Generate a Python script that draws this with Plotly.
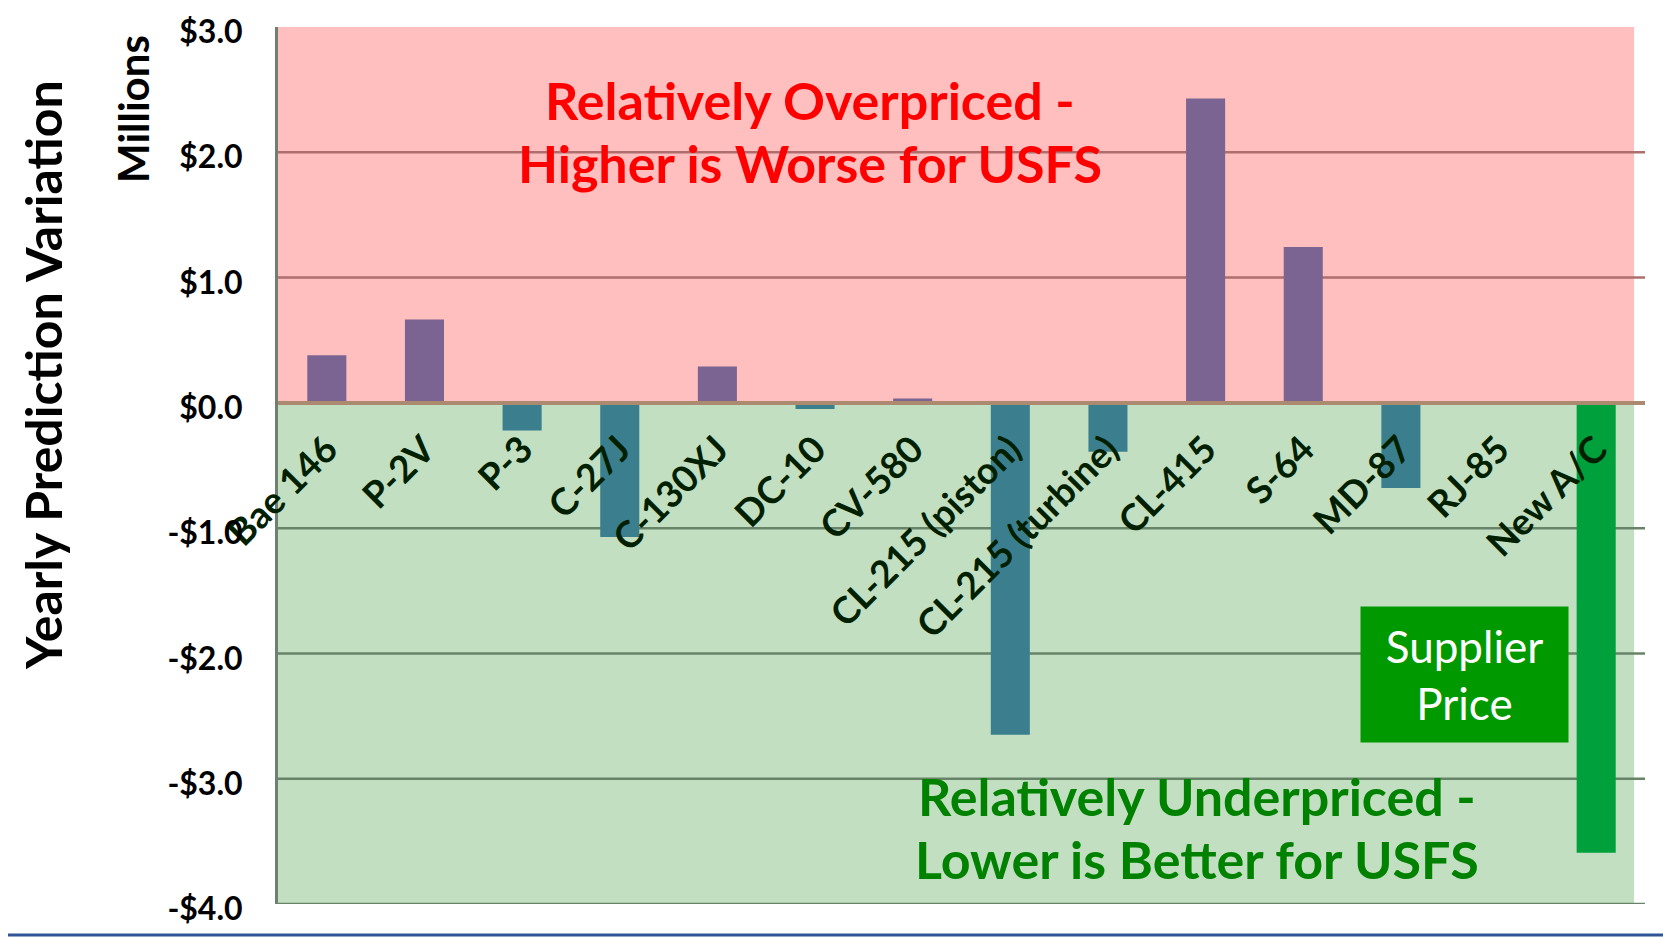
import plotly.graph_objects as go

categories = ["Bae 146", "P-2V", "P-3", "C-27J", "C-130XJ", "DC-10", "CV-580",
              "CL-215 (piston)", "CL-215 (turbine)", "CL-415", "S-64", "MD-87",
              "RJ-85", "New A/C"]
values = [0.38, 0.665, -0.22, -1.07, 0.29, -0.05, 0.035,
          -2.65, -0.39, 2.43, 1.245, -0.68, 0.0, -3.59]
y_ticks = [3, 2, 1, 0, -1, -2, -3, -4]
supplier_category = "New A/C"

def money(v):
    return ("-$" if v < 0 else "$") + f"{abs(v):.1f}"

PURPLE = "rgb(123,100,145)"
TEAL = "rgb(59,127,143)"
GREEN = "rgb(0,161,60)"
colors = [GREEN if c == supplier_category else (PURPLE if v >= 0 else TEAL)
          for c, v in zip(categories, values)]

FONT = "Lato"
W, H = 1663, 929
ML, MR, MT, MB = 270, 26, 19, 33
PW, PH = W - ML - MR, H - MT - MB

def px(xp):  # page pixel -> paper x
    return (xp - 8 - ML) / PW

def py(yp):  # page pixel -> paper y
    return (H - MB - (yp - 8)) / PH

fig = go.Figure()
fig.add_trace(go.Bar(x=categories, y=values, marker=dict(color=colors, line=dict(width=0)),
                     showlegend=False, hoverinfo="x+y"))

fig.update_layout(
    width=W, height=H,
    margin=dict(l=ML, r=MR, t=MT, b=MB, autoexpand=False),
    paper_bgcolor="white", plot_bgcolor="white",
    bargap=0.6,
    font=dict(family=FONT, color="black"),
    xaxis=dict(
        type="category", anchor="free", position=4/7, automargin=False,
        showgrid=False, showline=True, linecolor="rgb(172,138,112)", linewidth=4,
        tickangle=-45, ticks="", tickfont=dict(family=FONT, size=37, color="rgb(0,32,0)", weight="bold"),
        ticklabelstandoff=8, ticklabeloverflow="allow",
    ),
    yaxis=dict(
        range=[-4, 3], tickvals=y_ticks, ticktext=[money(v) for v in y_ticks],
        automargin=False,
        showgrid=False, zeroline=False,
        showline=True, linecolor="rgb(112,128,112)", linewidth=3,
        ticks="", ticklabelstandoff=26, ticklabelshift=5, ticklabeloverflow="allow",
        tickfont=dict(family=FONT, size=32, color="black", weight="bold"),
    ),
)

# shaded zones
fig.add_shape(type="rect", xref="x domain", yref="y", x0=0, x1=0.992, y0=0, y1=3,
              fillcolor="rgb(255,191,191)", line=dict(width=0), layer="below")
fig.add_shape(type="rect", xref="x domain", yref="y", x0=0, x1=0.992, y0=-4, y1=0,
              fillcolor="rgb(194,223,194)", line=dict(width=0), layer="below")
# gridlines, tinted by zone
for t in y_ticks:
    if t == 0 or t == 3:
        continue
    col = "rgb(175,110,110)" if t > 0 else "rgb(104,132,104)"
    fig.add_shape(type="line", xref="x domain", yref="y", x0=0, x1=1, y0=t, y1=t,
                  line=dict(color=col, width=2.5), layer="below")

# slide border
fig.add_shape(type="line", xref="paper", yref="paper", x0=px(0), x1=px(1671),
              y0=py(935), y1=py(935), line=dict(color="rgb(47,85,151)", width=3))
fig.add_shape(type="line", xref="paper", yref="paper", x0=px(1669), x1=px(1669),
              y0=py(0), y1=py(934), line=dict(color="rgb(190,190,190)", width=1))

def note(x, y, text, size, color, weight="bold", angle=0, **kw):
    fig.add_annotation(xref="paper", yref="paper", x=px(x), y=py(y), text=text,
                       textangle=angle, showarrow=False, xanchor="center", yanchor="middle",
                       font=dict(family=FONT, size=size, color=color, weight=weight), **kw)

note(43, 375, "Yearly Prediction Variation", 50, "black", angle=-90)
note(133, 109, "Millions", 42, "black", angle=-90)

note(810, 100, "Relatively Overpriced -", 52, "rgb(255,0,0)")
note(810, 163, "Higher is Worse for USFS", 52, "rgb(255,0,0)")
note(1197, 796, "Relatively Underpriced -", 52, "rgb(0,130,0)")
note(1197, 859, "Lower is Better for USFS", 52, "rgb(0,130,0)")

note(1464.5, 674.5, "Supplier<br>Price", 44, "white", weight="normal",
     width=207, height=135, bgcolor="rgb(0,153,0)", borderpad=0)

fig.write_html("out.html")
